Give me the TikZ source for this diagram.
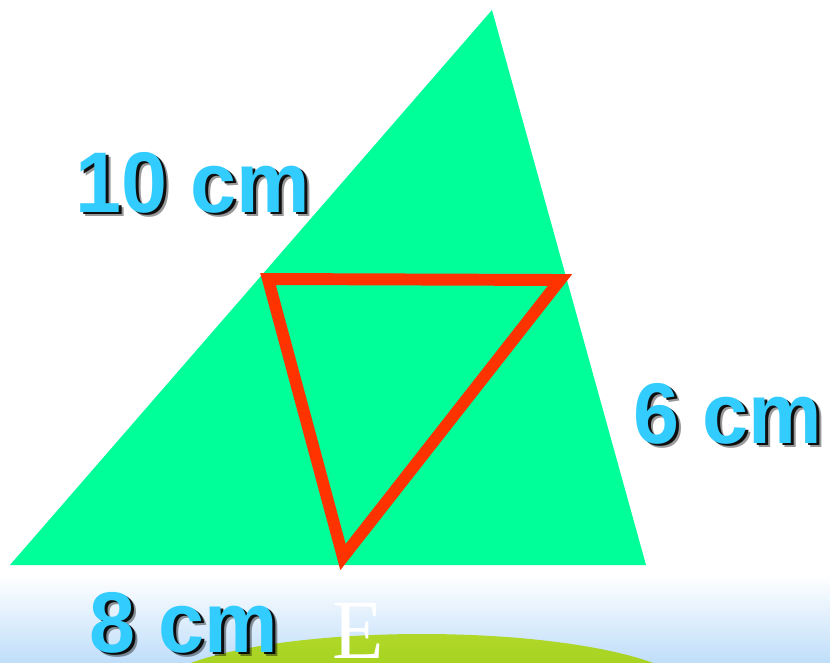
\documentclass[tikz,border=0pt]{standalone}
\usepackage{fontspec}
\newfontfamily\lblfont{Liberation Sans}
\newfontfamily\letterfont{Liberation Serif}
\usepackage{tikz}
\usetikzlibrary{positioning, calc}

\definecolor{trigreen}{RGB}{0,255,153}
\definecolor{edgered}{RGB}{255,51,0}
\definecolor{lblblue}{RGB}{51,204,255}
\definecolor{skyblue}{RGB}{192,222,250}
\definecolor{hilltop}{RGB}{176,216,40}
\definecolor{hillbot}{RGB}{140,196,20}

\begin{document}
\begin{tikzpicture}[x=0.02cm, y=-0.02cm,
    lbl/.style={inner sep=0pt, anchor=base, text=lblblue, xscale=0.96,
      font=\lblfont\bfseries\fontsize{49}{49}\selectfont},
    lblshadow/.style={lbl, text=black},
    redside/.style={draw=edgered, line width=6.8pt, line join=miter}]
  \useasboundingbox (0,0) rectangle (830,662);

  % Background strip and hill
  \shade[top color=white, bottom color=skyblue] (0,575) rectangle (830,662);
  \begin{scope}
    \clip (0,0) rectangle (830,662);
    \shade[top color=hilltop, bottom color=hillbot] (422,694) ellipse [x radius=270, y radius=60];
  \end{scope}

  % Big triangle
  \coordinate (A) at (10,565);
  \coordinate (B) at (492,10);
  \coordinate (C) at (646,565);
  \fill[trigreen] (A) -- (B) -- (C) -- cycle;

  % Inner triangle
  \coordinate (P) at (268,279);
  \coordinate (Q) at (560,280);
  \coordinate (R) at (343,557);
  \draw[redside] (P) -- (Q) -- (R) -- cycle;

  % Side lengths (with shadow)
  \foreach \n/\x/\y/\t in {ten/193/212/10 cm, six/728/443/6 cm, eight/184/652/8 cm} {
    \node[lblshadow, opacity=0.4] (\n-s2) at (\x+5,\y+4.5) {\t};
    \node[lblshadow, opacity=0.9] (\n-s) at (\x+3,\y+2.5) {\t};
    \node[lbl] (\n) at (\x,\y) {\t};
  }

  % Point E
  \node[inner sep=0pt, anchor=base, text=white,
    font=\letterfont\fontsize{48}{48}\selectfont] (E) at (358,658) {E};
\end{tikzpicture}
\end{document}
